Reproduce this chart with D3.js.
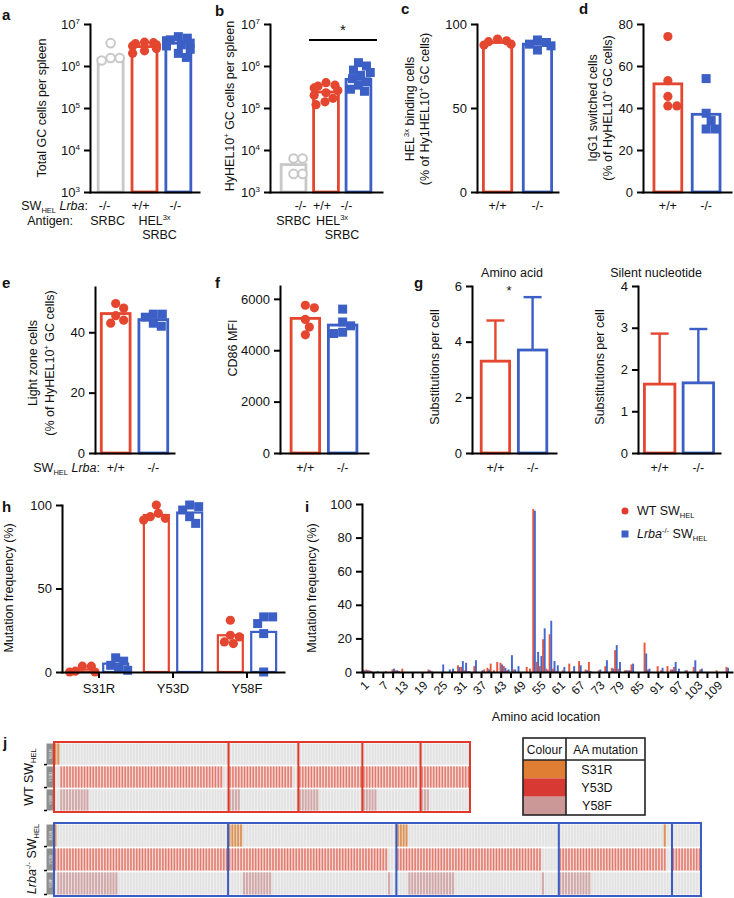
<!DOCTYPE html>
<html><head><meta charset="utf-8">
<script src="https://cdn.jsdelivr.net/npm/d3@7"></script>
<style>
body{margin:0;background:#fff;}
svg{font-family:"Liberation Sans",Arial,Helvetica,sans-serif;}
</style></head><body>
<svg id="c" width="734" height="898"></svg>
<script>
// ---------------- DATA ----------------
const genoA = ["-/-", "+/+", "-/-"];
const keysA = ["SRBC_KO", "HEL_WT", "HEL_KO"];
const aMeans = [1.5e6, 2.9e6, 3.5e6];
const aGrey = [3.5e6, 1.55e6, 1.35e6, 1.55e6];
const aRed = [3.7e6, 3.4e6, 2.9e6, 3.0e6, 2.6e6, 2.3e6, 2.0e6, 3.6e6, 2.8e6, 3.2e6];
const aBlue = [5.0e6, 4.6e6, 4.0e6, 3.5e6, 3.0e6, 2.5e6, 2.0e6, 1.6e6, 4.2e6, 3.2e6];

const bMeans = [4.5e3, 2.4e5, 4.8e5];
const bGrey = [6.3e3, 6.3e3, 2.7e3, 2.7e3];
const bRed = [4.0e5, 3.5e5, 3.0e5, 2.6e5, 2.3e5, 2.0e5, 1.7e5, 1.4e5, 1.2e5, 3.3e5];
const bBlue = [1.2e6, 1.0e6, 8e5, 6e5, 5e5, 4.2e5, 3.5e5, 2.8e5, 2.5e5, 7e5];

const geno2 = ["+/+", "-/-"];
const cMeans = [89, 88];
const cRed = [91, 90, 89.5, 88, 87.5];
const cBlue = [90.5, 89, 88, 87, 84.5];

const dMeans = [51.5, 37];
const dRed = [74, 53, 45.5, 41, 41];
const dBlue = [54, 37.5, 34, 30, 30];

const eMeans = [46.2, 44.2];
const eRed = [49.5, 48, 45.5, 44, 43];
const eBlue = [46, 46, 45, 43, 42];

const fMeans = [5240, 4980];
const fRed = [5750, 5650, 5200, 4900, 4600];
const fBlue = [5600, 5100, 4950, 4700, 4650];

const gAAMeans = [3.3, 3.7];
const gAAErr = [4.76, 5.6];
const gSilMeans = [1.65, 1.68];
const gSilErr = [2.86, 2.97];

const hCats = ["S31R", "Y53D", "Y58F"];
const hWTMeans = [1.5, 94, 22];
const hKOMeans = [5, 95.5, 24];
const hWTPts = [[3.5, 3.5, 0.5, 0, 0], [100, 95, 93, 92, 91], [31, 22, 21, 18, 17]];
const hKOPts = [[8.5, 6.5, 4, 2, 1], [100, 99, 97, 93, 89], [33, 33, 29, 23, 0]];

const iPos = d3.range(1, 114);
const iRed = [
1.5,1.5,1,0,0,0,0,0.5,0,1.5,
1,0.5,2,0,0,0,0,0,0,0,
1.5,0.5,0,0,0,0,0,0,0.5,4,
3,1,0.5,0,3.5,0,0,1.5,2.5,5,
1,6,5.5,3.5,1,0,1.5,0,0,0,
3,2,97,6,3.5,19.5,2,22.5,2,0.5,
0,1,0,5,0.5,0,6.5,0,1.5,6,
0,0,1,0,3.5,0,2.5,13,2,0,
1,1,4.5,0,0,0,17.5,1.5,0,0,
3.5,1,0,3.5,1.5,3,0.5,0,0,1,
0,3,0,1.5,0,0,0,0,1,0,
0,3,0];
const iBlue = [
1,1,0.5,0,0.5,0,0,0,0,2,
1,0,0,0,0,0,0,0,0,0,
1,0,0,0,4.5,0,1.5,2,0,3,
6.5,5.5,0.5,0,7,0,1,0,1.5,0,
0,0,4.5,2.5,1.5,10,1.5,3.5,0,0,
0,0,96,12,9.5,26,1,30.5,6.5,4,
0,3,0,0,3.5,0,4,0,1,0.5,
0,0,1.5,0,7,0,2,16,6,0,
1,1,5,0,0,0,11,2,0,0,
0,2.5,0,0,1.5,6,2,0,1,0,
0,7,0,2,0,0,0,0,0,0,
0,2.5,0];

const hmRows = ["S31R", "Y53D", "Y58F"];
const wtSegCols = [60, 24, 22, 20, 17];
const wtS31R = [[0,1],[],[],[],[]];
const wtY53Dno = [[0,1,58,59],[22,23],[],[19],[]];
const wtY58F = [[[2,12]],[[0,4]],[[0,7]],[[0,5]],[[0,3]]];
const koSegCols = [60, 58, 56, 39, 10];
const koS31R = [[0],[0,1,2,3,4],[0,1,2,3],[36],[]];
const koY53Dno = [[],[55,56,57],[50,51,52,53,54,55],[37,38],[]];
const koY58F = [[[1,22]],[[5,15],[55,56]],[[4,20],[50,51]],[[0,11]],[]];

const legRows = ["S31R", "Y53D", "Y58F"];
const legColors = ["#e07f33", "#d83a33", "#cc9797"];

// ---------------- STYLE ----------------
const RED = "#e4462f", BLUE = "#3b5fc5", GREY = "#c8c8c8";
const FF = '"Liberation Sans", Arial, Helvetica, sans-serif';
const LFS = 12.5;
const svg = d3.select("#c");

function rich(t, parts, fs) {
  let shift = 0;
  parts.forEach(p => {
    const target = p.sup ? -0.38 * fs : (p.sub ? 0.2 * fs : 0);
    const ts = t.append("tspan").text(p.t);
    if (target !== shift) ts.attr("dy", target - shift);
    shift = target;
    if (p.sup || p.sub) ts.attr("font-size", fs * 0.6);
    if (p.it) ts.attr("font-style", "italic");
  });
}
function txt(x, y, parts, opt = {}) {
  const fs = opt.fs || LFS;
  const t = svg.append("text").attr("x", x).attr("y", y).attr("font-size", fs)
    .attr("text-anchor", opt.anchor || "start").attr("fill", "#111");
  if (opt.rot) t.attr("transform", `rotate(-90,${x},${y})`);
  if (opt.bold) t.attr("font-weight", "bold");
  rich(t, typeof parts === "string" ? [{t: parts}] : parts, fs);
  return t;
}
function styleAxis(a, fs) {
  a.attr("font-family", FF).attr("font-size", fs || 13);
  a.select(".domain").attr("stroke", "#000").attr("stroke-width", 2).attr("stroke-linecap", "square");
  a.selectAll(".tick line").attr("stroke", "#000").attr("stroke-width", 2);
  a.selectAll(".tick text").attr("fill", "#111");
}
function swarm(vals, cx, y, r, maxHalf) {
  const placed = [], out = [];
  const order = vals.map((v, i) => i).sort((a, b) => vals[b] - vals[a]);
  order.forEach(i => {
    const py = y(vals[i]);
    let best = cx;
    for (let k = 0; k < 60; k++) {
      const off = (k % 2 ? 1 : -1) * Math.ceil(k / 2) * 1.0;
      const px = cx + off;
      if (placed.every(p => (p[0] - px) ** 2 + (p[1] - py) ** 2 >= (2 * r * 0.95) ** 2)) { best = px; break; }
    }
    best = Math.max(cx - maxHalf, Math.min(cx + maxHalf, best));
    placed.push([best, py]); out[i] = [best, py];
  });
  return out;
}
function drawPts(g, pos, shape, color) {
  pos.forEach(p => {
    if (shape === "square") g.append("rect").attr("x", p[0] - 4.5).attr("y", p[1] - 4.5).attr("width", 9).attr("height", 9).attr("fill", color);
    else if (shape === "open") g.append("circle").attr("cx", p[0]).attr("cy", p[1]).attr("r", 4.3).attr("fill", "#fff").attr("stroke", color).attr("stroke-width", 2);
    else g.append("circle").attr("cx", p[0]).attr("cy", p[1]).attr("r", 4.6).attr("fill", color);
  });
}
function barPanel(o) {
  const g = svg.append("g");
  const y = (o.log ? d3.scaleLog() : d3.scaleLinear()).domain(o.domain).range([o.bottom, o.top]);
  const x = d3.scaleBand().domain(o.keys).range([o.ax, o.ax2]).paddingInner(o.pI).paddingOuter(o.pO);
  o.keys.forEach((k, i) => {
    const c = o.colors[i], bx = x(k), bw = x.bandwidth(), cx = bx + bw / 2, yt = y(o.means[i]);
    g.append("rect").attr("x", bx + 1.4).attr("y", yt).attr("width", bw - 2.8).attr("height", o.bottom - yt)
      .attr("fill", "none").attr("stroke", c).attr("stroke-width", 2.8);
    if (o.errs) {
      const ye = y(o.errs[i]);
      g.append("line").attr("x1", cx).attr("x2", cx).attr("y1", yt).attr("y2", ye).attr("stroke", c).attr("stroke-width", 2.4);
      g.append("line").attr("x1", cx - 9).attr("x2", cx + 9).attr("y1", ye).attr("y2", ye).attr("stroke", c).attr("stroke-width", 2.4);
    }
    if (o.pts) drawPts(g, swarm(o.pts[i], cx, y, 4.5, bw / 2 - 2), o.shapes[i], c);
  });
  const ax = d3.axisLeft(y).tickValues(o.ticks).tickSize(6).tickSizeOuter(0).tickPadding(4);
  if (!o.log) ax.tickFormat(d3.format("d"));
  const ya = g.append("g").attr("transform", `translate(${o.ax},0)`).call(ax);
  const xa = g.append("g").attr("transform", `translate(0,${o.bottom})`)
    .call(d3.axisBottom(x).tickSize(0).tickSizeOuter(0).tickFormat(""));
  styleAxis(ya); styleAxis(xa);
  if (o.log) {
    ya.selectAll(".tick text").each(function (d) {
      const t = d3.select(this); t.text("10");
      t.append("tspan").attr("dy", -5).attr("font-size", 8).text(Math.round(Math.log10(d)));
    });
  }
  return {x, y};
}

// ---------------- PANELS a-g ----------------
const pa = barPanel({ax: 90, ax2: 199, top: 24, bottom: 192, log: true, domain: [1e3, 1e7],
  ticks: [1e3, 1e4, 1e5, 1e6, 1e7], keys: keysA, pI: 0.18, pO: 0.2, means: aMeans,
  pts: [aGrey, aRed, aBlue], shapes: ["open", "circle", "square"], colors: [GREY, RED, BLUE]});
const pb = barPanel({ax: 270, ax2: 382, top: 24, bottom: 192, log: true, domain: [1e3, 1e7],
  ticks: [1e3, 1e4, 1e5, 1e6, 1e7], keys: keysA, pI: 0.15, pO: 0.3, means: bMeans,
  pts: [bGrey, bRed, bBlue], shapes: ["open", "circle", "square"], colors: [GREY, RED, BLUE]});
const pc = barPanel({ax: 477, ax2: 558, top: 24, bottom: 192, domain: [0, 100], ticks: [0, 50, 100],
  keys: geno2, pI: 0.22, pO: 0.125, means: cMeans, pts: [cRed, cBlue], shapes: ["circle", "square"], colors: [RED, BLUE]});
const pd = barPanel({ax: 643, ax2: 731, top: 24, bottom: 192, domain: [0, 80], ticks: [0, 20, 40, 60, 80],
  keys: geno2, pI: 0.2, pO: 0.25, means: dMeans, pts: [dRed, dBlue], shapes: ["circle", "square"], colors: [RED, BLUE]});
const pe = barPanel({ax: 95, ax2: 174, top: 287, bottom: 453, domain: [0, 55], ticks: [0, 20, 40],
  keys: geno2, pI: 0.16, pO: 0.13, means: eMeans, pts: [eRed, eBlue], shapes: ["circle", "square"], colors: [RED, BLUE]});
const pf = barPanel({ax: 280, ax2: 368, top: 286, bottom: 453, domain: [0, 6500], ticks: [0, 2000, 4000, 6000],
  keys: geno2, pI: 0.16, pO: 0.26, means: fMeans, pts: [fRed, fBlue], shapes: ["circle", "square"], colors: [RED, BLUE]});
const pg1 = barPanel({ax: 472, ax2: 556, top: 286, bottom: 453, domain: [0, 6], ticks: [0, 2, 4, 6],
  keys: geno2, pI: 0.16, pO: 0.21, means: gAAMeans, errs: gAAErr, colors: [RED, BLUE]});
const pg2 = barPanel({ax: 638, ax2: 720, top: 286, bottom: 453, domain: [0, 4], ticks: [0, 1, 2, 3, 4],
  keys: geno2, pI: 0.14, pO: 0.13, means: gSilMeans, errs: gSilErr, colors: [RED, BLUE]});

// x-labels
const ctr = (p, k) => p.x(k) + p.x.bandwidth() / 2;
const swl = [{t: "SW"}, {t: "HEL", sub: true}, {t: " "}, {t: "Lrba", it: true}, {t: ":"}];
const aOff = [-6, -4, -3], bOff = [7, -4, -12];
txt(88, 210, swl, {anchor: "end"});
keysA.forEach((k, i) => txt(ctr(pa, k) + aOff[i], 210, genoA[i], {anchor: "middle"}));
txt(73, 225, "Antigen:", {anchor: "end"});
txt(ctr(pa, keysA[0]) - 3, 225, "SRBC", {anchor: "middle"});
txt(ctr(pa, keysA[1]) + 10, 225, [{t: "HEL"}, {t: "3x", sup: true}], {anchor: "middle"});
txt(ctr(pa, keysA[1]) + 15, 239, "SRBC", {anchor: "middle"});
keysA.forEach((k, i) => txt(ctr(pb, k) + bOff[i], 210, genoA[i], {anchor: "middle"}));
txt(ctr(pb, keysA[0]), 225, "SRBC", {anchor: "middle"});
txt(ctr(pb, keysA[1]) + 6, 225, [{t: "HEL"}, {t: "3x", sup: true}], {anchor: "middle"});
txt(ctr(pb, keysA[1]) + 16, 239, "SRBC", {anchor: "middle"});
[pc, pd].forEach(p => geno2.forEach(k => txt(ctr(p, k), 210, k, {anchor: "middle"})));
txt(100, 472, swl, {anchor: "end"});
[pe, pf, pg1, pg2].forEach(p => geno2.forEach(k => txt(ctr(p, k), 472, k, {anchor: "middle"})));

// y-labels
txt(46, 108, "Total GC cells per spleen", {rot: true, anchor: "middle"});
txt(234, 106, [{t: "HyHEL10"}, {t: "+", sup: true}, {t: " GC cells per spleen"}], {rot: true, anchor: "middle"});
txt(414, 109, [{t: "HEL"}, {t: "3x", sup: true}, {t: " binding cells"}], {rot: true, anchor: "middle"});
txt(429, 109, [{t: "(% of Hy1HEL10"}, {t: "+", sup: true}, {t: " GC cells)"}], {rot: true, anchor: "middle"});
txt(597, 108, "IgG1 switched cells", {rot: true, anchor: "middle"});
txt(612, 108, [{t: "(% of HyHEL10"}, {t: "+", sup: true}, {t: " GC cells)"}], {rot: true, anchor: "middle"});
txt(37, 363, "Light zone cells", {rot: true, anchor: "middle"});
txt(54, 363, [{t: "(% of HyHEL10"}, {t: "+", sup: true}, {t: " GC cells)"}], {rot: true, anchor: "middle"});
txt(237, 348, "CD86 MFI", {rot: true, anchor: "middle"});
txt(439, 367, "Substitutions per cell", {rot: true, anchor: "middle"});
txt(604, 367, "Substitutions per cell", {rot: true, anchor: "middle"});
txt(512, 277, "Amino acid", {anchor: "middle"});
txt(656, 277, "Silent  nucleotide", {anchor: "middle"});

// significance
svg.append("line").attr("x1", ctr(pb, keysA[1]) - 17).attr("x2", 377).attr("y1", 40).attr("y2", 40).attr("stroke", "#000").attr("stroke-width", 2);
txt(343, 35, "*", {anchor: "middle", fs: 15});
txt(509, 295, "*", {anchor: "middle", fs: 13});

// panel letters
[["a", 2, 20], ["b", 215, 16], ["c", 401, 14], ["d", 579, 14], ["e", 2, 288], ["f", 215, 288], ["g", 414, 288],
 ["h", 2, 512], ["i", 305, 512], ["j", 3, 748]].forEach(l => txt(l[1], l[2], l[0], {bold: true, fs: 15}));

// ---------------- PANEL h ----------------
{
  const g = svg.append("g");
  const y = d3.scaleLinear().domain([0, 100]).range([672, 505]);
  const x0 = d3.scaleBand().domain(hCats).range([62, 284]);
  const x1 = d3.scaleBand().domain(["WT", "KO"]).range([0, x0.bandwidth()]).paddingInner(0.18).paddingOuter(0.2);
  hCats.forEach((c, i) => {
    [["WT", hWTMeans[i], hWTPts[i], RED, "circle"], ["KO", hKOMeans[i], hKOPts[i], BLUE, "square"]].forEach(s => {
      const bx = x0(c) + x1(s[0]), bw = x1.bandwidth(), yt = y(s[1]);
      g.append("rect").attr("x", bx + 1.2).attr("y", yt).attr("width", bw - 2.4).attr("height", 672 - yt)
        .attr("fill", "none").attr("stroke", s[3]).attr("stroke-width", 2.2);
      drawPts(g, swarm(s[2], bx + bw / 2, y, 4.5, bw / 2 - 1), s[4], s[3]);
    });
  });
  const ya = g.append("g").attr("transform", "translate(62,0)").call(d3.axisLeft(y).tickValues([0, 50, 100]).tickSize(6).tickSizeOuter(0).tickPadding(4));
  const xa = g.append("g").attr("transform", "translate(0,672)").call(d3.axisBottom(x0).tickSize(6).tickSizeOuter(0).tickPadding(6));
  styleAxis(ya); styleAxis(xa);
  txt(13, 588, "Mutation frequency (%)", {rot: true, anchor: "middle"});
}

// ---------------- PANEL i ----------------
{
  const g = svg.append("g");
  const y = d3.scaleLinear().domain([0, 100]).range([672, 504]);
  const x = d3.scaleBand().domain(iPos).range([362, 732]);
  const bw = x.bandwidth();
  iPos.forEach((p, k) => {
    if (iRed[k] > 0) g.append("rect").attr("x", x(p)).attr("y", y(iRed[k])).attr("width", bw / 2 + 0.3).attr("height", 672 - y(iRed[k])).attr("fill", "#e6583e");
    if (iBlue[k] > 0) g.append("rect").attr("x", x(p) + bw / 2).attr("y", y(iBlue[k])).attr("width", bw / 2 + 0.3).attr("height", 672 - y(iBlue[k])).attr("fill", "#4468cc");
  });
  const ya = g.append("g").attr("transform", "translate(362,0)").call(d3.axisLeft(y).tickValues([0, 20, 40, 60, 80, 100]).tickSize(6).tickSizeOuter(0).tickPadding(4));
  const xa = g.append("g").attr("transform", "translate(0,672)")
    .call(d3.axisBottom(x).tickValues(iPos.filter(p => (p - 1) % 3 === 0)).tickSize(6).tickSizeOuter(0)
      .tickFormat(p => (p - 1) % 6 === 0 ? String(p) : ""));
  styleAxis(ya); styleAxis(xa);
  xa.selectAll(".tick text").attr("font-size", 12).attr("y", 0).attr("dy", "0.35em")
    .attr("transform", "translate(3,11) rotate(-45)").attr("text-anchor", "end");
  txt(316, 588, "Mutation frequency (%)", {rot: true, anchor: "middle"});
  txt(546, 721, "Amino acid location", {anchor: "middle"});
  // legend
  svg.append("circle").attr("cx", 625).attr("cy", 511).attr("r", 3.5).attr("fill", "#e43a2e");
  txt(637, 515, [{t: "WT SW"}, {t: "HEL", sub: true}]);
  svg.append("rect").attr("x", 621.5).attr("y", 530.5).attr("width", 7).attr("height", 7).attr("fill", BLUE);
  txt(637, 538, [{t: "Lrba", it: true}, {t: "-/-", sup: true}, {t: " SW"}, {t: "HEL", sub: true}]);
}

// ---------------- PANEL j (heatmap) ----------------
function heat(o) {
  const g = svg.append("g");
  const n = d3.sum(o.segCols);
  const cols = d3.range(n);
  const xc = d3.scaleBand().domain(cols).range([54, o.right]);
  const yr = d3.scaleBand().domain(hmRows).range([o.top + 1.5, o.bottom - 1.5]).paddingInner(0.08);
  const info = [];
  let start = 0; const starts = [];
  o.segCols.forEach((nc, s) => {
    starts.push(start);
    for (let j = 0; j < nc; j++) {
      info.push({i: start + j,
        S31R: o.s31r[s].includes(j),
        Y53D: !o.y53dNo[s].includes(j),
        Y58F: o.y58f[s].some(r => j >= r[0] && j < r[1])});
    }
    start += nc;
  });
  const fillOn = {S31R: "#dda06c", Y53D: "#eda79d", Y58F: "#d6b2b2"};
  const lineOn = {S31R: "#d99358", Y53D: "#e0786c", Y58F: "#cfa6a6"};
  const bw = xc.bandwidth();
  hmRows.forEach(r => {
    g.append("rect").attr("x", 54).attr("y", yr(r)).attr("width", o.right - 54).attr("height", yr.bandwidth()).attr("fill", "#f6f6f6");
    info.forEach(c => {
      const on = c[r];
      g.append("rect").attr("x", xc(c.i) + 0.3).attr("y", yr(r)).attr("width", bw - 0.6).attr("height", yr.bandwidth())
        .attr("fill", on ? fillOn[r] : "#e3e3e3");
      if (on) g.append("rect").attr("x", xc(c.i) + bw / 2 - 0.5).attr("y", yr(r)).attr("width", 1).attr("height", yr.bandwidth())
        .attr("fill", lineOn[r]);
    });
    // tag
    g.append("rect").attr("x", 46.5).attr("y", yr(r)).attr("width", 7).attr("height", yr.bandwidth()).attr("fill", "#8e8e8e");
    g.append("text").attr("x", 0).attr("y", 0).attr("font-size", 4).attr("fill", "#eee").attr("text-anchor", "middle")
      .attr("transform", `translate(${51.5},${yr(r) + yr.bandwidth() / 2}) rotate(-90)`).text(r);
    g.append("line").attr("x1", 44).attr("x2", 47).attr("y1", yr(r) + yr.bandwidth()).attr("y2", yr(r) + yr.bandwidth()).attr("stroke", "#000").attr("stroke-width", 1.5);
  });
  starts.slice(1).forEach(s => g.append("line").attr("x1", xc(s)).attr("x2", xc(s)).attr("y1", o.top).attr("y2", o.bottom)
    .attr("stroke", o.color).attr("stroke-width", 2));
  g.append("rect").attr("x", 54).attr("y", o.top).attr("width", o.right - 54).attr("height", o.bottom - o.top)
    .attr("fill", "none").attr("stroke", o.color).attr("stroke-width", 2);
}
heat({segCols: wtSegCols, s31r: wtS31R, y53dNo: wtY53Dno, y58f: wtY58F, top: 742, bottom: 812, right: 470, color: "#e0392b"});
heat({segCols: koSegCols, s31r: koS31R, y53dNo: koY53Dno, y58f: koY58F, top: 823, bottom: 896, right: 701, color: "#3a5cc4"});
txt(33, 777, [{t: "WT SW"}, {t: "HEL", sub: true}], {rot: true, anchor: "middle"});
txt(36, 859, [{t: "Lrba", it: true}, {t: "-/-", sup: true}, {t: " SW"}, {t: "HEL", sub: true}], {rot: true, anchor: "middle"});

// legend table
{
  const g = svg.append("g");
  const ly = d3.scaleBand().domain(legRows).range([760, 815]);
  legRows.forEach((r, i) => {
    g.append("rect").attr("x", 523).attr("y", ly(r)).attr("width", 43).attr("height", ly.bandwidth()).attr("fill", legColors[i]);
    txt(597, ly(r) + ly.bandwidth() / 2 + 4.5, r, {anchor: "middle"});
  });
  g.append("rect").attr("x", 523).attr("y", 738).attr("width", 122).attr("height", 77).attr("fill", "none").attr("stroke", "#222").attr("stroke-width", 1.6);
  g.append("line").attr("x1", 523).attr("x2", 645).attr("y1", 760).attr("y2", 760).attr("stroke", "#222").attr("stroke-width", 1.6);
  g.append("line").attr("x1", 566).attr("x2", 566).attr("y1", 738).attr("y2", 815).attr("stroke", "#222").attr("stroke-width", 1.6);
  txt(544.5, 754, "Colour", {anchor: "middle", fs: 12});
  txt(605.5, 754, "AA mutation", {anchor: "middle", fs: 12});
}
</script>
</body></html>
